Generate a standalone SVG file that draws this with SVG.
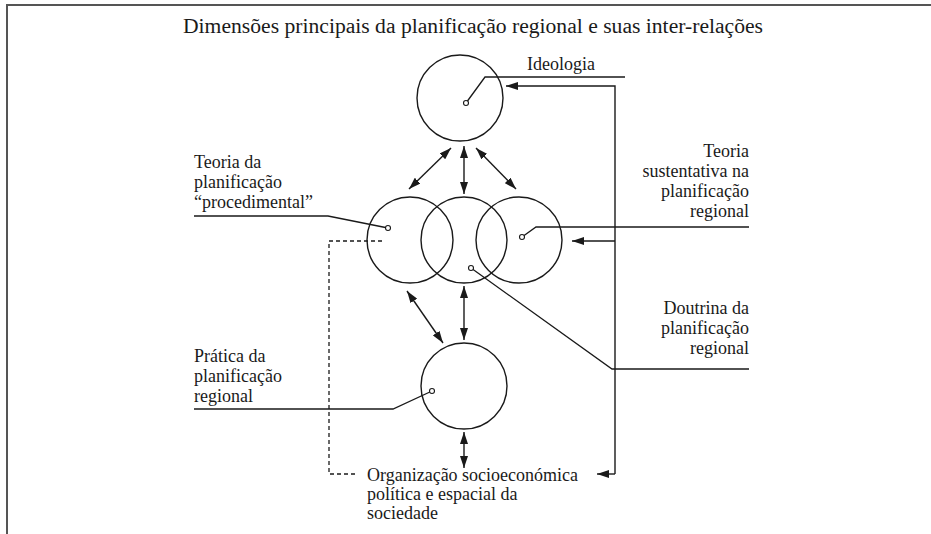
<svg xmlns="http://www.w3.org/2000/svg" width="931" height="534" viewBox="0 0 931 534">
<defs>
<marker id="ah" viewBox="0 0 12 8" refX="12" refY="4" markerWidth="12" markerHeight="8" markerUnits="userSpaceOnUse" orient="auto-start-reverse">
<path d="M0,0 L12,4 L0,8 Z" fill="#1a1a1a"/>
</marker>
</defs>
<style>
.c{fill:none;stroke:#1a1a1a;stroke-width:1.4}
.l{fill:none;stroke:#1a1a1a;stroke-width:1.3}
.d{fill:#fff;stroke:#1a1a1a;stroke-width:1.1}
.a{fill:none;stroke:#1a1a1a;stroke-width:1.4;marker-end:url(#ah)}
.b{fill:none;stroke:#1a1a1a;stroke-width:1.4;marker-start:url(#ah);marker-end:url(#ah)}
.dash{fill:none;stroke:#1a1a1a;stroke-width:1.3;stroke-dasharray:4,3}
.t{font-family:'Liberation Serif','Times New Roman',serif;font-size:18px;fill:#1a1a1a}
.r{text-anchor:end}
</style>
<rect width="931" height="534" fill="#fff"/>
<path d="M7,534 V5 H931" fill="none" stroke="#555" stroke-width="2"/>
<text class="t" x="473" y="33" text-anchor="middle" textLength="580" lengthAdjust="spacingAndGlyphs" style="font-size:20px">Dimensões principais da planificação regional e suas inter-relações</text>

<g id="ideologia">
<circle class="c" cx="460" cy="98" r="43"/>
<text class="t" x="527" y="70">Ideologia</text>
</g>
<g id="teoria-procedimental">
<circle class="c" cx="410" cy="240" r="43"/>
<text class="t" x="194" y="168">Teoria da</text>
<text class="t" x="194" y="188">planificação</text>
<text class="t" x="194" y="208">“procedimental”</text>
</g>
<g id="doutrina">
<circle class="c" cx="464" cy="240" r="43"/>
<text class="t r" x="749" y="314">Doutrina da</text>
<text class="t r" x="749" y="334">planificação</text>
<text class="t r" x="749" y="354">regional</text>
</g>
<g id="teoria-sustentativa">
<circle class="c" cx="519" cy="240" r="43"/>
<text class="t r" x="749" y="157">Teoria</text>
<text class="t r" x="749" y="177">sustentativa na</text>
<text class="t r" x="749" y="197">planificação</text>
<text class="t r" x="749" y="217">regional</text>
</g>
<g id="pratica">
<circle class="c" cx="464" cy="386" r="43"/>
<text class="t" x="194" y="362">Prática da</text>
<text class="t" x="194" y="382">planificação</text>
<text class="t" x="194" y="402">regional</text>
</g>
<g id="organizacao">
<text class="t" x="367" y="481">Organização socioeconómica</text>
<text class="t" x="367" y="500">política e espacial da</text>
<text class="t" x="367" y="519">sociedade</text>
</g>

<g id="connectors">
<polyline class="l" points="466,103 485,77 625,77"/>
<polyline class="l" points="388,228 328,216 194,216"/>
<polyline class="l" points="522,237 536,227 749,227"/>
<polyline class="l" points="471,268 612,369 749,369"/>
<polyline class="l" points="432,391 393,409 194,409"/>
<line class="b" x1="451" y1="148" x2="409" y2="189"/>
<line class="b" x1="464" y1="146" x2="464" y2="194"/>
<line class="b" x1="476" y1="148" x2="516" y2="189"/>
<line class="b" x1="407" y1="291" x2="443" y2="343"/>
<line class="b" x1="464" y1="286" x2="464" y2="340"/>
<line class="b" x1="464" y1="432" x2="464" y2="468"/>
<polyline class="a" points="615,474 615,86 506,86"/>
<line class="a" x1="615" y1="241" x2="572" y2="241"/>
<line class="a" x1="615" y1="474" x2="597" y2="474"/>
<polyline class="dash" points="382,241 329,241 329,474 358,474"/>
</g>

<g id="dots">
<circle class="d" cx="466" cy="103" r="2.5"/>
<circle class="d" cx="388" cy="228" r="2.5"/>
<circle class="d" cx="522" cy="237" r="2.5"/>
<circle class="d" cx="471" cy="268" r="2.5"/>
<circle class="d" cx="432" cy="391" r="2.5"/>
</g>
</svg>
